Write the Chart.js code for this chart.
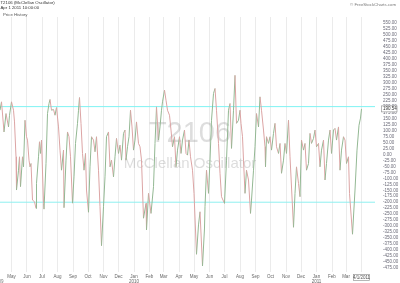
<!DOCTYPE html>
<html><head><meta charset="utf-8">
<script src="https://cdn.jsdelivr.net/npm/chart.js@4"></script>
<style>html,body{margin:0;padding:0;background:#fff}#wrap{width:400px;height:283px;position:relative}</style>
</head><body><div id="wrap"><canvas id="c" width="400" height="283"></canvas></div>
<script>
// ---- data ----
const START_DATE = [2009, 3, 8]; // day 0 = 8 Apr 2009
const dayOffsets = [
0,3,8,12,17,19,23,27,29,32,33,37,39,41,45,47,50,53,55,58,
60,62,65,69,72,73,77,79,81,83,87,88,92,95,98,100,103,107,110,113,
117,120,123,127,128,132,135,138,141,145,148,151,155,157,159,162,165,168,171,173,
177,180,183,187,190,193,197,200,203,207,210,213,217,220,223,227,230,233,237,240,
243,247,250,252,255,258,261,264,267,270,273,277,280,283,287,292,293,297,302,307,
310,313,317,320,323,325,329,332,335,339,342,345,349,352,355,359,362,365,369,372,
375,378,381,385,388,393,397,400,405,409,410,413,417,420,423,427,430,433,437,440,
443,449,453,457,460,463,467,470,473,477,480,482,485,487,490,493,497,501,503,507,
510,513,517,520,523,527,530,531,533,537,540,543,547,550,553,557,560,563,567,570,
573,577,580,587,590,593,597,600,603,607,610,613,617,620,623,627,630,633,637,640,
643,647,650,653,657,660,663,667,670,673,677,680,683,687,690,693,697,699,705,710,
714,718,721,723];
const oscValues = [
185,220,94,171,115,164,220,185,136,-10,-149,-66,-10,-135,-10,-52,143,74,60,-24,
-52,-38,-191,-198,-226,-121,-10,53,4,60,-205,-229,-38,171,213,230,185,188,164,196,
115,18,-66,18,-223,-24,94,74,-10,-204,-94,46,130,185,238,130,4,-66,4,-149,
-242,-52,74,60,11,74,-66,-219,-382,-219,-94,74,94,-52,-24,-94,-10,67,4,39,
-24,88,102,-24,32,74,185,115,18,60,136,46,32,-24,-267,-205,-316,-163,-247,-135,
46,199,60,115,185,220,269,227,185,164,102,32,74,-52,18,74,4,60,102,4,
-3,60,-10,-66,-163,-418,-295,-240,-467,-308,-219,-66,-163,-24,143,255,276,185,46,-79,
-177,-205,-24,185,213,25,185,331,130,143,185,130,74,-24,-163,-66,-107,-247,-191,-66,
32,171,115,241,185,102,32,-52,74,46,74,18,88,130,32,4,46,-79,-24,46,
4,143,-10,-305,-163,-52,-121,-177,60,18,46,-66,-38,88,46,67,102,32,46,-52,
18,60,-107,-38,60,102,4,102,109,60,115,-66,18,74,60,-38,-10,-163,-334,-149,
18,122,152,190.54];
const bandLevels = [200, -200];
const yTickValues = [-475,-450,-425,-400,-375,-350,-325,-300,-275,-250,-225,-200,-175,-150,-125,-100,-75,-50,-25,0,
25,50,75,100,125,150,175,200,225,250,275,300,325,350,375,400,425,450,475,500,525,550];
const monthNames = ['Jan','Feb','Mar','Apr','May','Jun','Jul','Aug','Sep','Oct','Nov','Dec'];
const firstMonth = [2009, 4];  // May 2009
const lastMonth = [2011, 3];   // Apr 2011
const lastBarLabel = '4/1/2011';
const titleText = 'T2106 (McClellan Oscillator)';
const dateText = 'Apr 1 2011 10:00:00';
const legendText = 'Price History';
const creditText = '\u00a9 FreeStockCharts.com';
const wmBig = 'T2106';
const wmSmall = 'McClellan Oscillator';

// ---- build ----
const DAY = 86400000;
const t0 = Date.UTC(START_DATE[0], START_DATE[1], START_DATE[2]);
const monthTicks = [];
{
  let y = firstMonth[0], m = firstMonth[1];
  while (y < lastMonth[0] || (y === lastMonth[0] && m <= lastMonth[1])) {
    const d = Math.round((Date.UTC(y, m, 1) - t0) / DAY);
    let label = monthNames[m];
    if (m === 0) label = [monthNames[m], String(y)];
    if (y === lastMonth[0] && m === lastMonth[1]) label = '';
    monthTicks.push({ day: d, label });
    m++; if (m > 11) { m = 0; y++; }
  }
}
const X_MAX = 750;
const pts = dayOffsets.map((d, i) => ({ x: d, y: oscValues[i] }));
const FONT = 'Liberation Sans, Arial, sans-serif';

const overlay = {
  id: 'overlay',
  beforeDatasetsDraw(chart) {
    const c = chart.ctx;
    c.save();
    c.fillStyle = 'rgba(150,150,150,0.32)';
    c.textAlign = 'center';
    c.textBaseline = 'alphabetic';
    c.font = '29px ' + FONT;
    c.fillText(wmBig, 190, 142);
    c.font = '15px ' + FONT;
    c.fillText(wmSmall, 190, 168);
    c.restore();
  },
  afterDraw(chart) {
    const c = chart.ctx;
    const ys = chart.scales.y, xs = chart.scales.x;
    c.save();
    c.textBaseline = 'middle';
    c.textAlign = 'left';
    c.font = '4.3px ' + FONT;
    c.fillStyle = '#333';
    c.fillText(titleText, 0.5, 3.3);
    c.fillText(dateText, 0.5, 8.3);
    c.fillStyle = '#555';
    c.fillText(legendText, 3, 14.5);
    c.textAlign = 'right';
    c.fillStyle = '#777';
    c.fillText(creditText, 396, 5);
    // last value box
    const lv = oscValues[oscValues.length - 1];
    const py = ys.getPixelForValue(lv);
    c.fillStyle = '#fff';
    c.fillRect(381.5, py - 3, 15.5, 6);
    c.strokeStyle = '#999';
    c.lineWidth = 0.7;
    c.strokeRect(381.5, py - 3, 15.5, 6);
    c.fillStyle = '#333';
    c.textAlign = 'left';
    c.font = '4.5px ' + FONT;
    c.fillText(lv.toFixed(2), 383, py + 0.2);
    // last date box
    const px = xs.getPixelForValue(dayOffsets[dayOffsets.length - 1]);
    c.textAlign = 'center';
    c.fillStyle = '#fff';
    c.fillRect(px - 8, 274.5, 16, 6);
    c.strokeRect(px - 8, 274.5, 16, 6);
    c.fillStyle = '#555';
    c.fillText(lastBarLabel, px, 277.7);
    // cut-off year label at left edge
    c.fillStyle = '#777';
    c.fillText(String(START_DATE[0]), -1.5, 281.5);
    c.restore();
  }
};

new Chart(document.getElementById('c'), {
  type: 'line',
  data: {
    datasets: [
      { data: pts, borderWidth: 1, pointRadius: 0, tension: 0, borderColor: '#d4a0a0',
        segment: { borderColor: s => s.p1.parsed.y >= s.p0.parsed.y ? '#93b893' : '#dca4a4' } },
      { data: [{ x: 0, y: bandLevels[0] }, { x: X_MAX, y: bandLevels[0] }], borderColor: '#7ff3f3', borderWidth: 1, pointRadius: 0 },
      { data: [{ x: 0, y: bandLevels[1] }, { x: X_MAX, y: bandLevels[1] }], borderColor: '#8ef0f0', borderWidth: 1, pointRadius: 0 }
    ]
  },
  options: {
    responsive: false, animation: false, devicePixelRatio: 1,
    layout: { padding: { top: 17, left: 0, right: 0, bottom: 0 } },
    plugins: { legend: { display: false }, tooltip: { enabled: false } },
    scales: {
      x: {
        type: 'linear', min: 0, max: X_MAX,
        grid: { color: '#ebebeb', drawTicks: false },
        border: { display: false },
        afterBuildTicks: s => { s.ticks = monthTicks.map(t => ({ value: t.day })); },
        ticks: { autoSkip: false, maxRotation: 0, padding: 2, color: '#666',
          font: { size: 4.5, family: FONT, lineHeight: 1.1 },
          callback: (v, i) => monthTicks[i] ? monthTicks[i].label : '' },
        afterFit: s => { s.height = 11; }
      },
      y: {
        position: 'right', min: -492, max: 575,
        grid: { display: false, drawTicks: false },
        border: { display: false },
        afterBuildTicks: s => { s.ticks = yTickValues.map(v => ({ value: v })); },
        ticks: { autoSkip: false, padding: 8, color: '#6a6a78', font: { size: 4.5, family: FONT },
          callback: v => Number(v).toFixed(2) },
        afterFit: s => { s.width = 25; }
      }
    }
  },
  plugins: [overlay]
});
</script>
</body></html>
